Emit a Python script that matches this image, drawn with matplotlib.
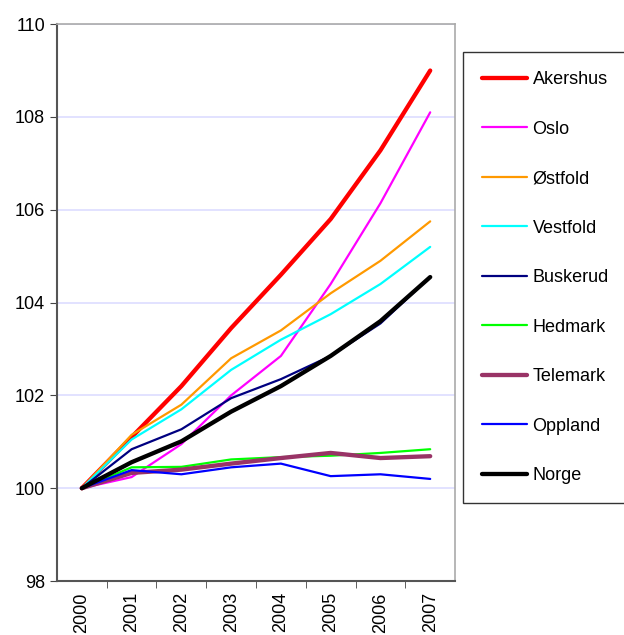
import matplotlib
matplotlib.use("Agg")
import matplotlib.pyplot as plt
import numpy as np

plt.rcParams['font.family'] = ['Liberation Sans', 'DejaVu Sans']

years = ["2000", "2001", "2002", "2003", "2004", "2005", "2006", "2007"]

akershus = [100, 101.1, 102.2, 103.45, 104.6, 105.8, 107.28, 109.0]
oslo = [100, 100.24, 100.95, 102.0, 102.85, 104.4, 106.14, 108.1]
ostfold = [100, 101.15, 101.8, 102.8, 103.4, 104.2, 104.9, 105.75]
vestfold = [100, 101.05, 101.7, 102.55, 103.2, 103.75, 104.4, 105.2]
buskerud = [100, 100.84, 101.27, 101.94, 102.35, 102.85, 103.55, 104.55]
hedmark = [100, 100.45, 100.46, 100.62, 100.67, 100.7, 100.76, 100.84]
telemark = [100, 100.33, 100.40, 100.53, 100.65, 100.76, 100.65, 100.69]
oppland = [100, 100.39, 100.30, 100.45, 100.53, 100.26, 100.30, 100.20]
norge = [100, 100.56, 101.01, 101.65, 102.2, 102.85, 103.6, 104.55]

series = [
    ("Akershus", akershus, "#ff0000", 3.1),
    ("Oslo", oslo, "#ff00ff", 1.6),
    ("Østfold", ostfold, "#ff9900", 1.6),
    ("Vestfold", vestfold, "#00ffff", 1.6),
    ("Buskerud", buskerud, "#000080", 1.6),
    ("Hedmark", hedmark, "#00ff00", 1.6),
    ("Telemark", telemark, "#993366", 3.1),
    ("Oppland", oppland, "#0000ff", 1.6),
    ("Norge", norge, "#000000", 3.1),
]

fig = plt.figure(figsize=(6.24, 6.35), dpi=100)
ax = fig.add_axes([0.0913, 0.085, 0.638, 0.877])

x = np.arange(len(years))
for name, vals, col, lw in series:
    ax.plot(x, vals, color=col, lw=lw, label=name, solid_capstyle="round")

ax.set_xlim(-0.5, 7.5)
ax.set_ylim(98, 110)
ax.set_yticks(np.arange(98, 111, 2))
ax.yaxis.grid(True, color="#ddddff", lw=1.2)
ax.set_axisbelow(True)

ax.set_xticks(x)
ax.set_xticklabels(years, rotation=90, fontsize=13)
ax.set_xticks(np.arange(0.5, 7.5, 1), minor=True)
ax.tick_params(axis="x", which="major", length=0, pad=8)
ax.tick_params(axis="x", which="minor", length=5, direction="out", color="#444444")
ax.tick_params(axis="y", labelsize=13, length=5, direction="out", color="#444444")

for s in ["left", "bottom"]:
    ax.spines[s].set_color("#555555")
    ax.spines[s].set_linewidth(1.5)
for s in ["top", "right"]:
    ax.spines[s].set_color("#aaaaaa")
    ax.spines[s].set_linewidth(1.2)

leg = fig.legend(loc="upper left", bbox_to_anchor=(0.742, 0.918), fontsize=13,
                 labelspacing=1.8, handlelength=2.5, handletextpad=0.3,
                 borderpad=1.05, borderaxespad=0, fancybox=False, frameon=True)
leg.get_frame().set_edgecolor("black")
leg.get_frame().set_linewidth(1.0)

fig.savefig("out.png", dpi=100)
